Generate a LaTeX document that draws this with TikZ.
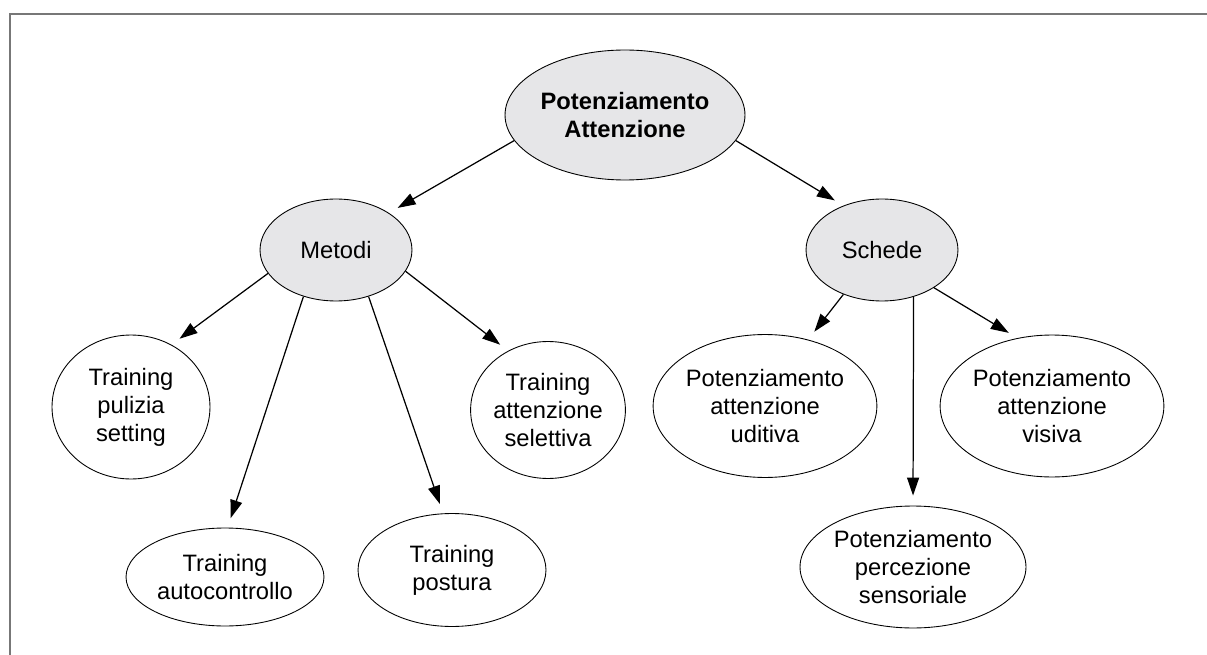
\documentclass[tikz,border=0pt]{standalone}
\usepackage{fontspec}
\setmainfont{Liberation Sans}
\usetikzlibrary{shapes.geometric, arrows.meta}
\definecolor{bubblefill}{HTML}{E6E6E8}
\definecolor{framegray}{HTML}{777777}

\begin{document}
\begin{tikzpicture}[x=0.02cm, y=-0.02cm,
            bubble/.style={ellipse, draw=black, line width=0.5pt, inner sep=0pt, align=center, font=\fontsize{13.5}{16}\selectfont},
            topic/.style={bubble, fill=bubblefill},
            link/.style={-{Triangle[length=0.36cm, width=0.24cm]}, line width=0.7pt, shorten >=0.2cm}
        ]
            \useasboundingbox (0,0) rectangle (1207,655);

% Frame
            \draw[framegray, line width=1.1pt] (10,655) -- (10,14) -- (1207,14);

% Root
            \node[topic, minimum width=4.8cm, minimum height=2.6cm, font=\fontsize{13.5}{16}\selectfont\bfseries] (root) at (625,115) {Potenziamento\\Attenzione};

% Second level
            \node[topic, minimum width=3.04cm, minimum height=2.04cm] (metodi) at (336,250) {Metodi};
            \node[topic, minimum width=3.04cm, minimum height=2.04cm] (schede) at (882,250) {Schede};

% Metodi branch
            \node[bubble, minimum width=3.16cm, minimum height=2.88cm] (pulizia) at (131,407) {Training\\pulizia\\setting};
            \node[bubble, minimum width=3.96cm, minimum height=1.96cm] (autocontrollo) at (225,577) {Training\\autocontrollo};
            \node[bubble, minimum width=3.76cm, minimum height=2.26cm] (postura) at (452,570) {Training\\postura};
            \node[bubble, minimum width=3.08cm, minimum height=2.74cm] (selettiva) at (548,410) {Training\\attenzione\\selettiva};

% Schede branch
            \node[bubble, minimum width=4.32cm, minimum height=2.86cm] (uditiva) at (765,406) {Potenziamento\\attenzione\\uditiva};
            \node[bubble, minimum width=4.52cm, minimum height=2.44cm] (percezione) at (913,567) {Potenziamento\\percezione\\sensoriale};
            \node[bubble, minimum width=4.28cm, minimum height=2.84cm] (visiva) at (1052,406) {Potenziamento\\attenzione\\visiva};

% Arrows
            \draw[link] (root.193) -- (metodi.35);
            \draw[link] (root.-13) -- (schede.131);
            \draw[link] (metodi.199) -- (pulizia.57);
            \draw[link] (metodi.235) -- (autocontrollo.87);
            \draw[link] (metodi.305) -- (postura.99);
            \draw[link] (metodi.-17) -- (selettiva.124);
            \draw[link] (schede.229) -- (uditiva.57);
            \draw[link] (schede.-56.4) -- (percezione.north);
            \draw[link] (schede.-36) -- (visiva.117);

        \end{tikzpicture}
\end{document}
